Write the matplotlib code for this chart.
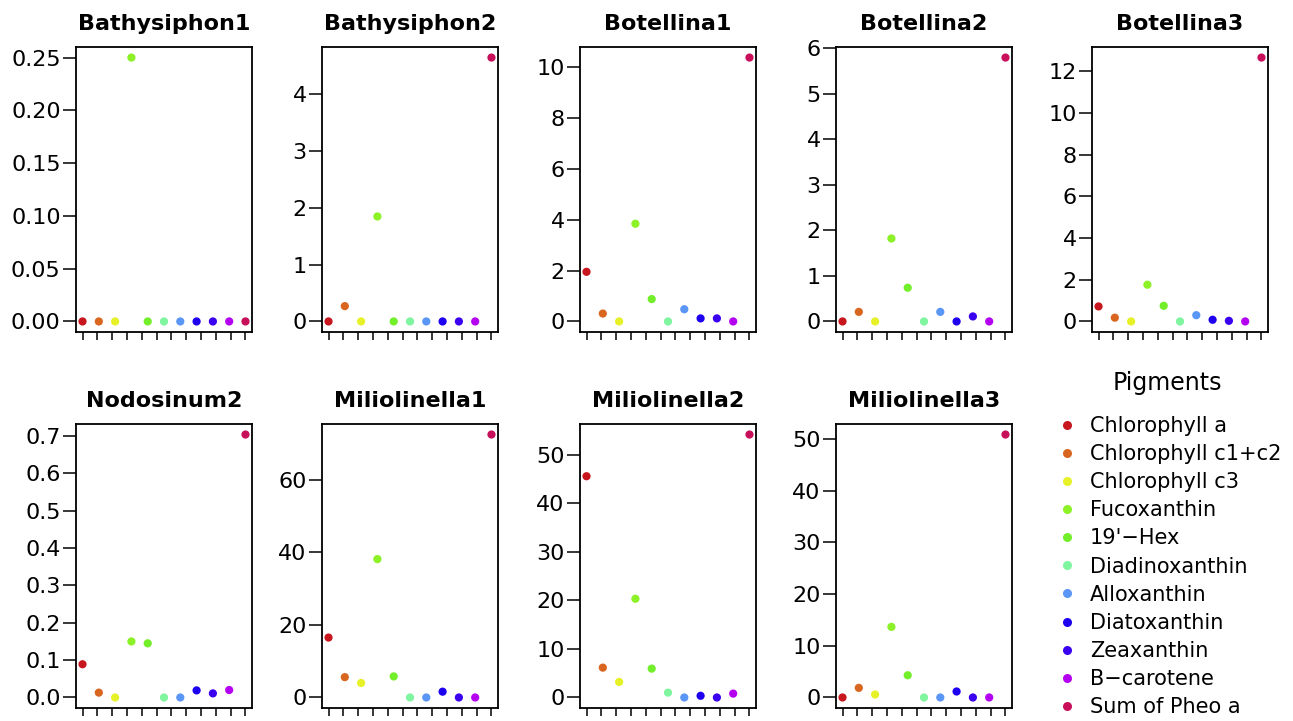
import matplotlib
matplotlib.use("Agg")
import matplotlib.pyplot as plt
import numpy as np
from matplotlib.lines import Line2D
from matplotlib.ticker import FormatStrFormatter

pigments = ["Chlorophyll a", "Chlorophyll c1+c2", "Chlorophyll c3", "Fucoxanthin",
            "19'\u2212Hex", "Diadinoxanthin", "Alloxanthin", "Diatoxanthin",
            "Zeaxanthin", "B\u2212carotene", "Sum of Pheo a"]
pig_colors = ["#C8161E", "#D9661F", "#E6F227", "#8CF227", "#73EE2A", "#80F5A0",
              "#5A96F5", "#1E00F0", "#3A00F0", "#B400F0", "#C8105A"]

taxa = ["Bathysiphon1", "Bathysiphon2", "Botellina1", "Botellina2", "Botellina3",
        "Nodosinum2", "Miliolinella1", "Miliolinella2", "Miliolinella3"]

bathysiphon1 = [0, 0, 0, 0.25, 0, 0, 0, 0, 0, 0, 0]
bathysiphon2 = [0, 0.27, 0, 1.85, 0, 0, 0, 0, 0, 0, 4.65]
botellina1 = [1.95, 0.31, 0, 3.84, 0.88, 0, 0.48, 0.12, 0.12, 0, 10.37]
botellina2 = [0, 0.21, 0, 1.82, 0.74, 0, 0.21, 0, 0.11, 0, 5.79]
botellina3 = [0.72, 0.18, 0, 1.76, 0.75, 0, 0.30, 0.08, 0.03, 0, 12.65]
nodosinum2 = [0.089, 0.013, 0, 0.15, 0.145, 0, 0, 0.019, 0.011, 0.02, 0.704]
miliolinella1 = [16.5, 5.6, 4.0, 38.1, 5.8, 0, 0, 1.6, 0, 0, 72.4]
miliolinella2 = [45.6, 6.15, 3.2, 20.35, 5.95, 1.0, 0, 0.35, 0, 0.8, 54.2]
miliolinella3 = [0, 1.86, 0.58, 13.67, 4.3, 0, 0, 1.16, 0, 0, 50.9]

values = [bathysiphon1, bathysiphon2, botellina1, botellina2, botellina3,
          nodosinum2, miliolinella1, miliolinella2, miliolinella3]

# y tick spacing and label format per panel
tick_step = [0.05, 1, 2, 1, 2, 0.1, 20, 10, 10]
tick_fmt = ["%.2f", "%d", "%d", "%d", "%d", "%.1f", "%d", "%d", "%d"]

W, H = 1293, 721
fig = plt.figure(figsize=(W / 100, H / 100), dpi=100)
plt.rcParams['font.family'] = ['DejaVu Sans']

lefts = [76, 322, 580, 836, 1092]
row_tb = [(47, 332), (424, 708)]
pw = 176

x = np.arange(1, 12)
for k, (name, vals) in enumerate(zip(taxa, values)):
    r, c = divmod(k, 5)
    top, bot = row_tb[r]
    ax = fig.add_axes([lefts[c] / W, 1 - bot / H, pw / W, (bot - top) / H])
    ax.scatter(x, vals, c=pig_colors, s=35, linewidths=0, zorder=3)
    lo, hi = min(vals), max(vals)
    rng = hi - lo
    y0, y1 = lo - 0.04 * rng, hi + 0.04 * rng
    ax.set_ylim(y0, y1)
    ax.set_xlim(0.6, 11.4)
    ax.set_yticks(np.arange(0, y1 + 1e-9, tick_step[k]))
    ax.yaxis.set_major_formatter(FormatStrFormatter(tick_fmt[k]))
    ax.set_xticks(np.linspace(1, 11, 12))
    ax.set_xticklabels([])
    ax.tick_params(axis='y', length=9.5, width=1.1, pad=1.5, labelsize=16)
    ax.tick_params(axis='x', length=5.5, width=1.1)
    for s in ax.spines.values():
        s.set_linewidth(1.3)
    ax.set_title(name, fontsize=16, fontweight='bold', pad=12)

handles = [Line2D([], [], marker='o', linestyle='', markersize=6.5,
                  markerfacecolor=col, markeredgewidth=0) for col in pig_colors]
fig.text(1167 / W, 1 - 383 / H, "Pigments", fontsize=17, ha='center', va='center')
fig.legend(handles, pigments, loc='upper left',
           bbox_to_anchor=(1057 / W, 1 - 416 / H), frameon=False,
           fontsize=15, handlelength=1.0,
           handletextpad=0.58, labelspacing=0.39, borderpad=0, borderaxespad=0)

fig.savefig("out.png", dpi=100)
